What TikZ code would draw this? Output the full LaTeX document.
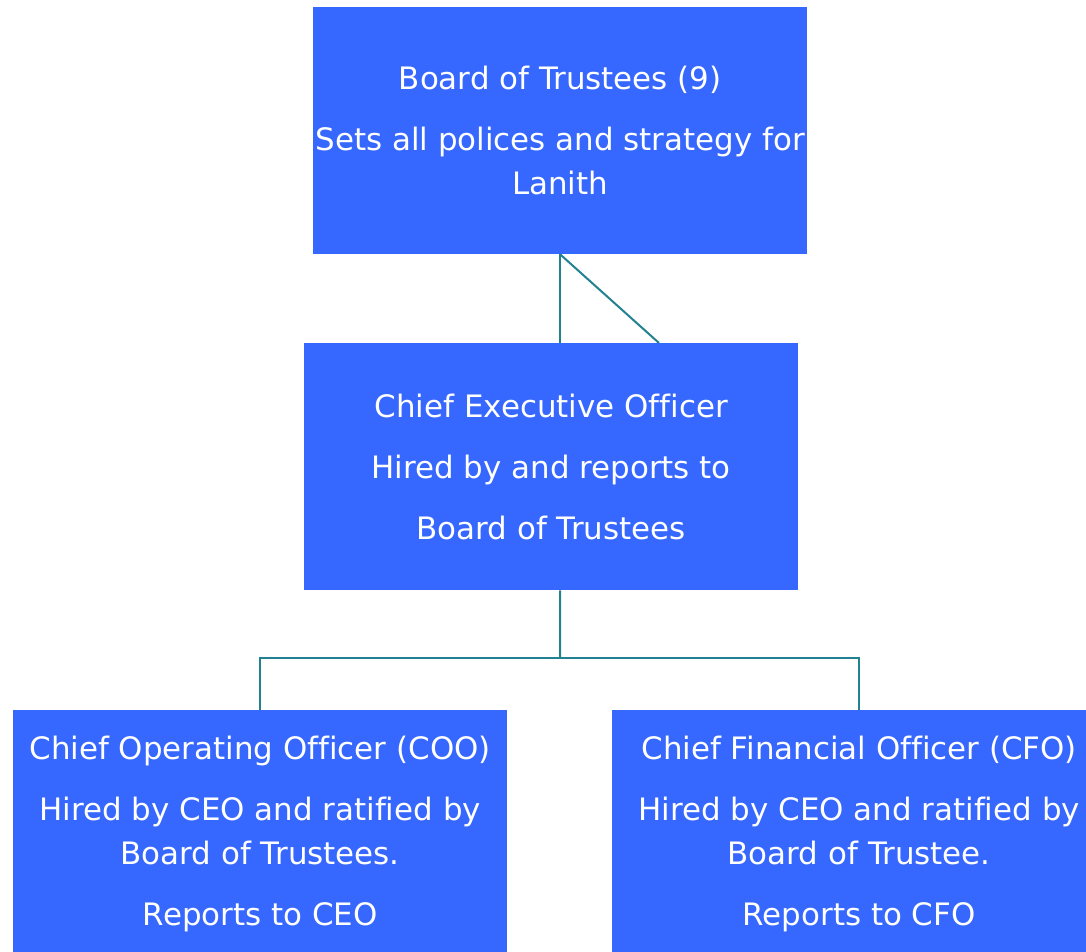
\documentclass[tikz,border=0pt]{standalone}
\usepackage{fontspec}
\setmainfont[Ligatures=NoCommon]{DejaVu Sans}
\usetikzlibrary{calc}
\definecolor{boxblue}{RGB}{54,103,255}
\definecolor{linkteal}{RGB}{35,130,145}
\begin{document}
\begin{tikzpicture}[x=1pt,y=-1pt,
  orgbox/.style={fill=boxblue, draw=none, minimum width=494pt, minimum height=247pt,
    anchor=north west, inner sep=0pt, text=white, align=center,
    font=\fontsize{30.9}{44}\selectfont},
  link/.style={draw=linkteal, line width=2pt}]
\useasboundingbox (0,0) rectangle (1086,952);
\fill[white] (0,0) rectangle (1086,952);
\node[orgbox] (bot) at (313,7) {Board of Trustees (9)\\[17pt]Sets all polices and strategy for\\Lanith};
\node[orgbox] (ceo) at (304,343) {Chief Executive Officer\\[17pt]Hired by and reports to\\[17pt]Board of Trustees};
\node[orgbox] (coo) at (13,710) {Chief Operating Officer (COO)\\[17pt]Hired by CEO and ratified by\\Board of Trustees.\\[17pt]Reports to CEO};
\node[orgbox] (cfo) at (612,710) {Chief Financial Officer (CFO)\\[17pt]Hired by CEO and ratified by\\Board of Trustee.\\[17pt]Reports to CFO};
\coordinate (diag) at ($(ceo.north west)+(355,0)$);
\coordinate (fork) at ($(ceo.south west)+(256,68)$);
\draw[link] (bot.south) -- (bot.south |- ceo.north);
\draw[link] (bot.south) -- (diag);
\draw[link] (ceo.south -| bot.south) -- (fork);
\draw[link] (coo.north) -- (coo.north |- fork) -- (cfo.north |- fork) -- (cfo.north);
\end{tikzpicture}
\end{document}
